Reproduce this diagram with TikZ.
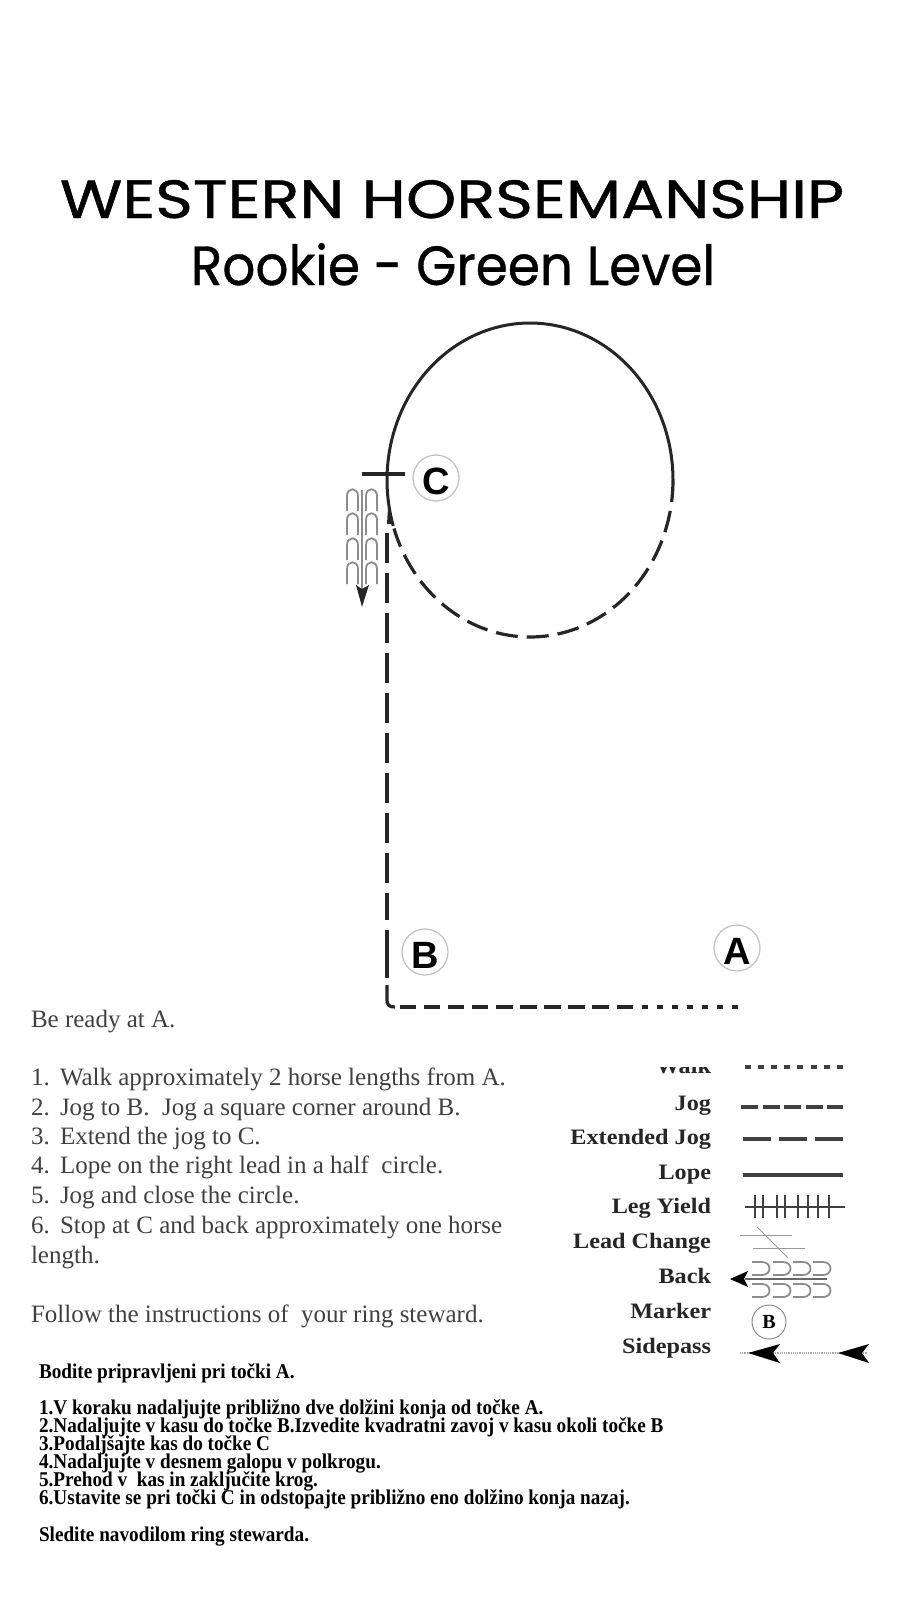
\documentclass[tikz,border=0pt]{standalone}
\usepackage{graphicx}
\usepackage{fontspec}
\setmainfont{Liberation Serif}
\newfontfamily\titlefont[FakeBold=0.7]{Poppins}
\newfontfamily\markerfont{Liberation Sans}
\newfontfamily\slofont[FakeStretch=0.915]{Liberation Serif}
\newfontfamily\legfont[FakeStretch=1.1]{Liberation Serif}
\definecolor{bodygrey}{HTML}{404040}
\definecolor{pathblack}{HTML}{262626}
\definecolor{ringgrey}{HTML}{C4C4C4}
\definecolor{hairgrey}{HTML}{8C8C8C}
\tikzset{
  x=1pt,y=-1pt,
  every node/.style={inner sep=0pt,outer sep=0pt},
  titletext/.style={anchor=base,text=black},
  bodytext/.style={anchor=base west,text=bodygrey,font=\fontsize{25}{28}\selectfont},
  slotext/.style={anchor=base west,text=black,font=\slofont\bfseries\fontsize{21}{23}\selectfont},
  legendtext/.style={anchor=base east,text=black!85,font=\legfont\bfseries\fontsize{22}{24}\selectfont},
  marker/.style={circle,draw=ringgrey,line width=1.3pt,minimum size=46pt,text=black,text height=32pt,text depth=0pt,font=\markerfont\bfseries\fontsize{38}{40}\selectfont},
  course/.style={draw=pathblack,line width=3.2pt},
  jogdash/.style={course,dash pattern=on 16.5pt off 7.6pt},
  walkdash/.style={course,dash pattern=on 6.5pt off 8.5pt},
  extdash/.style={course,dash pattern=on 30pt off 10pt},
  circdash/.style={course,dash pattern=on 22pt off 9pt},
  legline/.style={draw=black!75,line width=3.2pt},
  hairpin/.style={draw=hairgrey,line width=1.8pt},
  thingrey/.style={draw=black!40,line width=1pt},
  legtip/.style={fill=black,draw=none},
}
\begin{document}
\begin{tikzpicture}
\useasboundingbox[fill=white] (0,0) rectangle (900,1600);

% title
\node[titletext] (title1) at (452,218) {\resizebox{784pt}{38pt}{\titlefont WESTERN HORSEMANSHIP}};
\node[titletext] (title2) at (453,285) {\resizebox{524pt}{42pt}{\titlefont Rookie - Green Level}};

% markers
\node[marker] (C) at (436,478) {C};
\node[marker] (B) at (425,952) {B};
\node[marker] (A) at (737,948) {A};

% named way points
\coordinate (start) at (738,1007);
\coordinate (walkend) at (642,1007);
\coordinate (jogstart) at (633,1007);
\coordinate (bcorner) at (395,1007);
\coordinate (turn1) at (387,1000);
\coordinate (turn2) at (387,985);
\coordinate (seg1) at (387,978);
\coordinate (seg2) at (387,930);
\coordinate (seg3) at (387,920);
\coordinate (seg4) at (387,533);
\coordinate (tickL) at (362,474);
\coordinate (tickR) at (405,474);

% course
\draw[walkdash] (start) -- (walkend);
\draw[jogdash] (jogstart) -- (bcorner);
\draw[course] (bcorner) .. controls (389,1007) and (387,1005) .. (turn1) -- (turn2);
\draw[course] (seg1) -- (seg2);
\draw[extdash] (seg4) -- (seg3);
\draw[course] (tickL) -- (tickR);
\draw[course,line width=3pt] plot[domain=0:-197,samples=120] ({530+143*cos(\x)},{480+157*sin(\x)});
\draw[circdash] plot[domain=0:162,samples=120] ({530+143*cos(\x)},{480+157*sin(\x)});
\fill[pathblack] (388,508) -- (393,524) -- (387,524) -- cycle;

% back glyph beside C
\foreach \t in {489,513,538,562}{
  \draw[hairpin] (347,\t+22) -- (347,\t+7) .. controls (347,\t-2) and (358,\t-2) .. (358,\t+7) -- (358,\t+22);
  \draw[hairpin] (366,\t+22) -- (366,\t+7) .. controls (366,\t-2) and (377,\t-2) .. (377,\t+7) -- (377,\t+22);
}
\draw[draw=hairgrey,line width=2.4pt] (362,490) -- (362,590);
\fill[black!85] (356,585) -- (362,589) -- (369,585) -- (362,607) -- cycle;

% instructions
\node[bodytext] (ready) at (31,1027) {Be ready at A.};
\node[bodytext] (n1) at (31,1085) {1.};
\node[bodytext] (s1) at (60,1085) {Walk approximately 2 horse lengths from A.};
\node[bodytext] (n2) at (31,1115) {2.};
\node[bodytext] (s2) at (60,1115) {Jog to B.\ \ Jog a square corner around B.};
\node[bodytext] (n3) at (31,1144) {3.};
\node[bodytext] (s3) at (60,1144) {Extend the jog to C.};
\node[bodytext] (n4) at (31,1173) {4.};
\node[bodytext] (s4) at (60,1173) {Lope on the right lead in a half\ \ circle.};
\node[bodytext] (n5) at (31,1203) {5.};
\node[bodytext] (s5) at (60,1203) {Jog and close the circle.};
\node[bodytext] (n6) at (31,1233) {6.};
\node[bodytext] (s6) at (60,1233) {Stop at C and back approximately one horse};
\node[bodytext] (s6b) at (31,1263) {length.};
\node[bodytext] (follow) at (31,1322) {Follow the instructions of\ \ your ring steward.};

% legend labels
\begin{scope}
  \clip (600,1067) rectangle (720,1085);
  \node[legendtext] (lwalk) at (711,1073) {Walk};
\end{scope}
\node[legendtext] (ljog) at (711,1110) {Jog};
\node[legendtext] (lext) at (711,1144) {Extended Jog};
\node[legendtext] (llope) at (711,1179) {Lope};
\node[legendtext] (lyield) at (711,1213) {Leg Yield};
\node[legendtext] (llead) at (711,1248) {Lead Change};
\node[legendtext] (lback) at (711,1283) {Back};
\node[legendtext] (lmark) at (711,1318) {Marker};
\node[legendtext] (lside) at (711,1353) {Sidepass};

% legend samples
\draw[legline,dash pattern=on 6pt off 7.1pt] (745,1067) -- (847,1067);
\draw[legline,dash pattern=on 17pt off 4.5pt] (741,1107) -- (843,1107);
\draw[legline,dash pattern=on 28pt off 8pt] (743,1139) -- (843,1139);
\draw[legline] (743,1175) -- (843,1175);
\draw[legline,line width=2.4pt] (745,1207) -- (845,1207);
\foreach \t in {755,763,777,785,798,808,818,829}{
  \draw[legline,line width=2.6pt] (\t,1195) -- (\t,1218);
}
\draw[thingrey] (740,1235) -- (792,1235);
\draw[thingrey] (753,1248) -- (805,1248);
\draw[thingrey] (757,1227) -- (788,1258);
\draw[draw=black!60,line width=1.6pt] (745,1279) -- (827,1279);
\fill[black] (730,1279) -- (748,1271) -- (744,1279) -- (748,1287) -- cycle;
\foreach \x in {752,773,793,813}{
  \draw[hairpin] (\x,1262) -- (\x+10,1262) .. controls (\x+20,1262) and (\x+20,1275) .. (\x+10,1275) -- (\x,1275);
  \draw[hairpin] (\x,1284) -- (\x+10,1284) .. controls (\x+20,1284) and (\x+20,1297) .. (\x+10,1297) -- (\x,1297);
}
\node[circle,draw=black!45,line width=1pt,minimum size=34pt,text=black,font=\bfseries\fontsize{20}{22}\selectfont] (mk) at (769,1322) {B};
\draw[draw=black!35,line width=1.2pt,densely dotted] (740,1353) -- (867,1353);
\fill[legtip] (748,1353) -- (780,1344) -- (773,1353) -- (780,1363) -- cycle;
\fill[legtip] (838,1353) -- (869,1344) -- (862,1353) -- (869,1363) -- cycle;

% Slovene text
\node[slotext] (b0) at (39,1378) {Bodite pripravljeni pri točki A.};
\node[slotext] (b1) at (39,1414) {1.V koraku nadaljujte približno dve dolžini konja od točke A.};
\node[slotext] (b2) at (39,1432) {2.Nadaljujte v kasu do točke B.Izvedite kvadratni zavoj v kasu okoli točke B};
\node[slotext] (b3) at (39,1450) {3.Podaljšajte kas do točke C};
\node[slotext] (b4) at (39,1468) {4.Nadaljujte v desnem galopu v polkrogu.};
\node[slotext] (b5) at (39,1486) {5.Prehod v\ \ kas in zaključite krog.};
\node[slotext] (b6) at (39,1504) {6.Ustavite se pri točki C in odstopajte približno eno dolžino konja nazaj.};
\node[slotext] (b7) at (39,1541) {Sledite navodilom ring stewarda.};
\end{tikzpicture}
\end{document}
